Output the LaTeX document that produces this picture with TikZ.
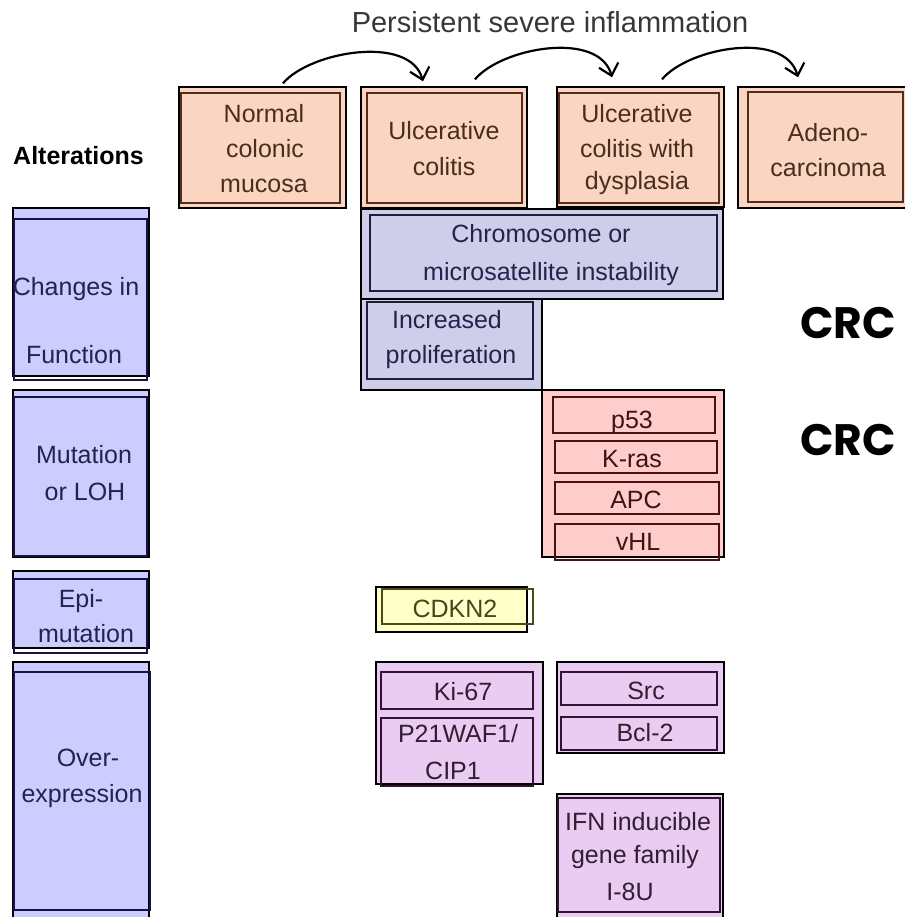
\documentclass[tikz,border=0pt]{standalone}
\usepackage{fontspec}
\setmainfont{Liberation Sans}
\newfontfamily\crcfont{Poppins}
\usetikzlibrary{fit,arrows.meta}
\definecolor{peach}{RGB}{250,213,193}
\definecolor{peachline}{RGB}{85,45,25}
\definecolor{peachtxt}{RGB}{75,45,30}
\definecolor{lav}{RGB}{204,204,255}
\definecolor{lavline}{RGB}{20,20,70}
\definecolor{lavtxt}{RGB}{35,35,75}
\definecolor{lavgrey}{RGB}{206,206,234}
\definecolor{lavgline}{RGB}{30,30,60}
\definecolor{rosefill}{RGB}{255,204,204}
\definecolor{roseline}{RGB}{80,15,15}
\definecolor{rosetxt}{RGB}{60,20,20}
\definecolor{yelfill}{RGB}{255,255,200}
\definecolor{yelline}{RGB}{75,75,25}
\definecolor{yeltxt}{RGB}{70,70,30}
\definecolor{pinkfill}{RGB}{234,204,242}
\definecolor{pinkline}{RGB}{50,20,50}
\definecolor{pinktxt}{RGB}{50,30,50}
\definecolor{titlegrey}{RGB}{55,55,55}
\begin{document}
\begin{tikzpicture}[x=1pt,y=-1pt,
  outerbox/.style={draw=black, line width=1.4pt, inner sep=0pt},
  innerbox/.style={draw, line width=2.2pt, inner sep=0pt},
  txt/.style={anchor=base, inner sep=0pt, font=\fontsize{25}{30}\selectfont},
  arr/.style={line width=2.2pt, -{Straight Barb[length=11pt,width=20pt]}}]
\useasboundingbox (0,0) rectangle (904,917);
\fill[white] (0,0) rectangle (904,917);

% title
\node[anchor=base, inner sep=0pt, font=\fontsize{29}{34}\selectfont, text=titlegrey] (title) at (550,33) {Persistent severe inflammation};
\node[anchor=base west, inner sep=0pt, font=\fontsize{25}{30}\selectfont\bfseries] (alt) at (13,165) {Alterations};

% top row
\node[outerbox, fill=peach, fit={(179,87)(346,208)}] (b1) {};
\node[innerbox, draw=peachline, fit={(181,93)(340,203)}] (b1i) {};
\node[outerbox, fill=peach, fit={(361,87)(527,208)}] (b2) {};
\node[innerbox, draw=peachline, fit={(367,93)(522,203)}] (b2i) {};
\node[outerbox, fill=peach, fit={(557,87)(724,207)}] (b3) {};
\node[innerbox, draw=peachline, fit={(559,93)(719,203)}] (b3i) {};
\node[outerbox, fill=peach, fit={(738,87)(907,208)}] (b4) {};
\node[innerbox, draw=peachline, fit={(748,92)(903,202)}] (b4i) {};

\node[txt, text=peachtxt] (b1a) at (264,123) {Normal};
\node[txt, text=peachtxt] (b1b) at (265,158) {colonic};
\node[txt, text=peachtxt] (b1c) at (264,193) {mucosa};
\node[txt, text=peachtxt] (b2a) at (444,140) {Ulcerative};
\node[txt, text=peachtxt] (b2b) at (444,176) {colitis};
\node[txt, text=peachtxt] (b3a) at (637,123) {Ulcerative};
\node[txt, text=peachtxt] (b3b) at (637,158) {colitis with};
\node[txt, text=peachtxt] (b3c) at (637,190) {dysplasia};
\node[txt, text=peachtxt] (b4a) at (828,142) {Adeno-};
\node[txt, text=peachtxt] (b4b) at (828,177) {carcinoma};

% arrows
\draw[arr] ([xshift=20.5pt,yshift=3pt]b1.north) .. controls +(27,-32) and +(-13,-47) .. ([xshift=-21pt,yshift=5pt]b2.north);
\draw[arr] ([xshift=31pt,yshift=7pt]b2.north) .. controls +(27,-32) and +(-13,-47) .. ([xshift=-28.5pt,yshift=9pt]b3.north);
\draw[arr] ([xshift=21.5pt,yshift=7pt]b3.north) .. controls +(27,-32) and +(-13,-47) .. ([xshift=-24.5pt,yshift=9pt]b4.north);

% left column
\node[outerbox, fill=lav, fit={(13,208)(149,376)}] (l1) {};
\node[innerbox, draw=lavline, fit={(14,219)(147,380)}] (l1i) {};
\node[outerbox, fill=lav, fit={(13,390)(149,557)}] (l2) {};
\node[innerbox, draw=lavline, fit={(14,397)(147,556)}] (l2i) {};
\node[outerbox, fill=lav, fit={(13,571)(149,648)}] (l3) {};
\node[innerbox, draw=lavline, fit={(14,579)(147,653)}] (l3i) {};
\node[outerbox, fill=lav, fit={(13,662)(149,922)}] (l4) {};
\node[innerbox, draw=lavline, fit={(14,672)(150,910)}] (l4i) {};

\node[txt, text=lavtxt] (l1a) at (76,295) {Changes in};
\node[txt, text=lavtxt] (l1b) at (74,363) {Function};
\node[txt, text=lavtxt] (l2a) at (84,463) {Mutation};
\node[txt, text=lavtxt] (l2b) at (85,500) {or LOH};
\node[txt, text=lavtxt] (l3a) at (81,607) {Epi-};
\node[txt, text=lavtxt] (l3b) at (86,642) {mutation};
\node[txt, text=lavtxt] (l4a) at (88,766) {Over-};
\node[txt, text=lavtxt] (l4b) at (82,802) {expression};

% changes in function
\node[outerbox, fill=lavgrey, fit={(361,209)(723,299)}] (cm) {};
\node[innerbox, draw=lavgline, fit={(370,215)(717,291)}] (cmi) {};
\node[outerbox, fill=lavgrey, fit={(361,299)(542,390)}] (ip) {};
\node[innerbox, draw=lavgline, fit={(367,302)(533,379)}] (ipi) {};
\node[txt, text=lavtxt] (cma) at (541,243) {Chromosome or};
\node[txt, text=lavtxt] (cmb) at (551,280) {microsatellite instability};
\node[txt, text=lavtxt] (ipa) at (447,328) {Increased};
\node[txt, text=lavtxt] (ipb) at (451,363) {proliferation};

% mutation
\node[outerbox, fill=rosefill, fit={(542,390)(724,557)}] (mg) {};
\node[innerbox, draw=roseline, fit={(553,397)(715,433)}] (p53) {};
\node[innerbox, draw=roseline, fit={(555,441)(717,473)}] (kras) {};
\node[innerbox, draw=roseline, fit={(555,482)(719,514)}] (apc) {};
\node[innerbox, draw=roseline, fit={(555,524)(719,560)}] (vhl) {};
\node[txt, text=rosetxt] (p53t) at (632,428) {p53};
\node[txt, text=rosetxt] (krast) at (632,467) {K-ras};
\node[txt, text=rosetxt] (apct) at (636,508) {APC};
\node[txt, text=rosetxt] (vhlt) at (638,550) {vHL};

% epimutation
\node[outerbox, fill=yelfill, fit={(376,587)(527,632)}] (cd) {};
\node[innerbox, draw=yelline, fit={(382,589)(533,624)}] (cdi) {};
\node[txt, text=yeltxt] (cdt) at (455,617) {CDKN2};

% overexpression
\node[outerbox, fill=pinkfill, fit={(376,662)(543,784)}] (kg) {};
\node[innerbox, draw=pinkline, fit={(381,672)(533,709)}] (ki) {};
\node[innerbox, draw=pinkline, fit={(381,718)(533,786)}] (p21) {};
\node[txt, text=pinktxt] (kit) at (463,700) {Ki-67};
\node[txt, text=pinktxt] (p21a) at (458,742) {P21WAF1/};
\node[txt, text=pinktxt] (p21b) at (453,779) {CIP1};

\node[outerbox, fill=pinkfill, fit={(557,662)(724,753)}] (sg) {};
\node[innerbox, draw=pinkline, fit={(561,672)(717,705)}] (src) {};
\node[innerbox, draw=pinkline, fit={(561,717)(717,750)}] (bcl) {};
\node[txt, text=pinktxt] (srct) at (646,699) {Src};
\node[txt, text=pinktxt] (bclt) at (645,741) {Bcl-2};

\node[outerbox, fill=pinkfill, fit={(557,794)(723,922)}] (ifn) {};
\node[innerbox, draw=pinkline, fit={(558,798)(720,912)}] (ifni) {};
\node[txt, text=pinktxt] (ifna) at (638,830) {IFN inducible};
\node[txt, text=pinktxt] (ifnb) at (635,863) {gene family};
\node[txt, text=pinktxt] (ifnc) at (630,900) {I-8U};

% CRC labels
\node[anchor=base, inner sep=0pt, font=\crcfont\bfseries\fontsize{44}{50}\selectfont] (crc1) at (848,338) {CRC};
\node[anchor=base, inner sep=0pt, font=\crcfont\bfseries\fontsize{44}{50}\selectfont] (crc2) at (848,455) {CRC};
\end{tikzpicture}
\end{document}
